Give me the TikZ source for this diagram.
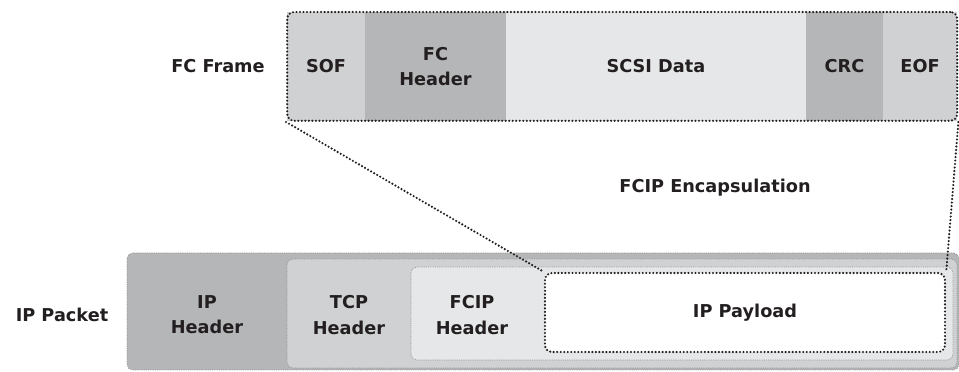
\documentclass[tikz,border=0pt]{standalone}
\usepackage{fontspec}
\setmainfont{DejaVu Sans}
\usepackage{xcolor}
\usepackage{tikz}
\usetikzlibrary{positioning}
\definecolor{segdark}{RGB}{181,182,183}
\definecolor{segmid}{RGB}{208,209,210}
\definecolor{seglight}{RGB}{230,231,232}
\definecolor{txtgray}{RGB}{35,31,32}
\definecolor{rimgray}{RGB}{140,140,140}

\begin{document}
\begin{tikzpicture}[
  font=\bfseries\fontsize{12.6}{18}\selectfont,
  text=txtgray,
  seg/.style={rectangle, inner sep=0pt, minimum height=2.72cm, align=center},
  pktbox/.style={rectangle, rounded corners=4pt, inner sep=0pt, draw=rimgray, line width=0.7pt, dash pattern=on 0pt off 1.3pt, line cap=round},
  lbl/.style={align=center, inner sep=1pt},
  bigdots/.style={draw=txtgray, line width=1.7pt, dash pattern=on 0pt off 2.5pt, line cap=round},
]
\useasboundingbox (0,0) rectangle (23.975,9.3);
% FC frame
\node[seg, fill=segmid, minimum width=1.945cm] (sof) at (8.1525,7.64) {SOF};
\node[seg, fill=segdark, minimum width=3.525cm] (fchdr) at (10.8875,7.64) {FC\\Header};
\node[seg, fill=seglight, minimum width=7.5cm] (scsi) at (16.4,7.64) {SCSI Data};
\node[seg, fill=segdark, minimum width=1.925cm] (crc) at (21.1125,7.64) {CRC};
\node[seg, fill=segmid, minimum width=1.855cm] (eof) at (23.0025,7.64) {EOF};
\node[rectangle, rounded corners=5pt, inner sep=0pt, minimum width=16.75cm, minimum height=2.72cm, bigdots] (fcframe) at (15.555,7.64) {};
\node[lbl] (fclabel) at (5.45,7.66) {FC Frame};
% IP packet
\node[pktbox, fill=segdark, minimum width=20.8cm, minimum height=2.925cm] (ippacket) at (13.575,1.5125) {};
\node[pktbox, fill=segmid, minimum width=16.75cm, minimum height=2.725cm] (tcp) at (15.55,1.4625) {};
\node[pktbox, fill=seglight, minimum width=13.55cm, minimum height=2.325cm] (fcip) at (17.05,1.4625) {};
\node[rectangle, rounded corners=5pt, inner sep=0pt, fill=white, bigdots, minimum width=10cm, minimum height=1.975cm] (payload) at (18.625,1.4875) {IP Payload};
\node[lbl] (iphdr) at (5.175,1.425) {IP\\Header};
\node[lbl] (tcphdr) at (8.725,1.425) {TCP\\Header};
\node[lbl] (fciphdr) at (11.8,1.425) {FCIP\\Header};
\node[lbl] (iplabel) at (1.55,1.425) {IP Packet};
\node[lbl] (encap) at (17.875,4.6) {FCIP Encapsulation};
% encapsulation lines
\draw[bigdots] (fcframe.south west) -- (payload.north west);
\draw[bigdots] (fcframe.south east) -- (payload.north east);
\end{tikzpicture}
\end{document}
